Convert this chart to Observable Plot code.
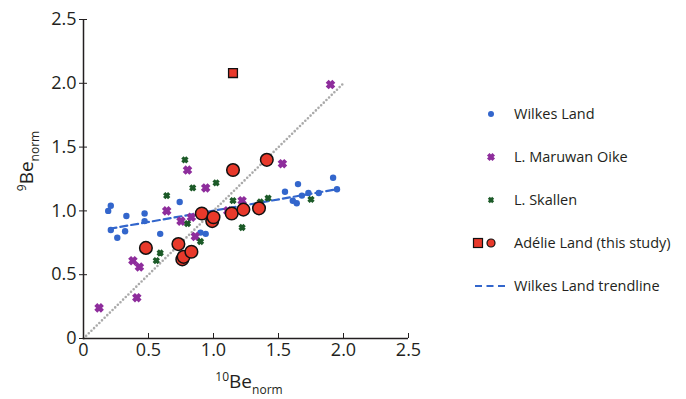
<!DOCTYPE html>
<html>
<head>
<meta charset="utf-8">
<script src="https://cdn.jsdelivr.net/npm/d3@7"></script>
<script src="https://cdn.jsdelivr.net/npm/@observablehq/plot@0.6"></script>
<style>
  html, body { margin: 0; padding: 0; background: #fff; }
  #wrap { position: relative; width: 686px; height: 399px; overflow: hidden; font-family: 'Open Sans', sans-serif; color: #231f20; }
  #chart { position: absolute; left: 0; top: 0; }
  #legend { position: absolute; left: 470px; top: 92px; }
  .item { display: flex; align-items: center; height: 43px; font-size: 14.5px; white-space: nowrap; }
  .item svg { flex: none; }
</style>
</head>
<body>
<div id="wrap"><div id="chart"></div><div id="legend"></div></div>
<script>
// ---- data ----
const wilkesX = [0.19, 0.21, 0.21, 0.26, 0.32, 0.33, 0.47, 0.47, 0.59, 0.74, 0.90, 0.94, 1.55, 1.61, 1.64, 1.65, 1.68, 1.73, 1.81, 1.92, 1.95];
const wilkesY = [1.00, 1.04, 0.85, 0.79, 0.84, 0.96, 0.98, 0.92, 0.82, 1.07, 0.83, 0.82, 1.15, 1.08, 1.06, 1.21, 1.12, 1.14, 1.14, 1.26, 1.17];

const maruwanX = [0.12, 0.38, 0.41, 0.43, 0.64, 0.75, 0.80, 0.83, 0.86, 0.94, 1.11, 1.22, 1.53, 1.90];
const maruwanY = [0.24, 0.61, 0.32, 0.56, 1.00, 0.92, 1.32, 0.95, 0.80, 1.18, 1.00, 1.08, 1.37, 1.99];

const skallenX = [0.56, 0.59, 0.64, 0.78, 0.80, 0.84, 0.90, 1.02, 1.15, 1.22, 1.36, 1.42, 1.75];
const skallenY = [0.61, 0.67, 1.12, 1.40, 0.90, 1.18, 0.76, 1.22, 1.08, 0.87, 1.07, 1.10, 1.09];

const adelieX = [0.48, 0.73, 0.76, 0.77, 0.83, 0.91, 0.99, 1.00, 1.14, 1.15, 1.23, 1.35, 1.41];
const adelieY = [0.71, 0.74, 0.62, 0.64, 0.68, 0.98, 0.92, 0.95, 0.98, 1.32, 1.01, 1.02, 1.40];

const adelieSqX = [1.15];
const adelieSqY = [2.08];

const trendX = [0.20, 1.95];
const trendY = [0.86, 1.17];

const oneToOneX = [0, 2];
const oneToOneY = [0, 2];

const axisTicks = [0, 0.5, 1.0, 1.5, 2.0, 2.5];

const legendLabels = ["Wilkes Land", "L. Maruwan Oike", "L. Skallen", "Adélie Land (this study)", "Wilkes Land trendline"];

// ---- colours ----
const BLUE = "#3366cc", PURPLE = "#8e2d9c", GREEN = "#1c5a28", RED = "#e8392b", INK = "#231f20";

const fmt = d => d === 0 ? "0" : d.toFixed(1);

const plot = Plot.plot({
  width: 450,
  height: 399,
  marginLeft: 83,
  marginRight: 42,
  marginTop: 19,
  marginBottom: 61,
  style: { fontFamily: "'Open Sans', sans-serif", fontSize: "18px", color: INK, background: "white", overflow: "visible" },
  x: { domain: [0, 2.5] },
  y: { domain: [0, 2.5] },
  marks: [
    Plot.line(oneToOneX, { x: oneToOneX, y: oneToOneY, stroke: "#aaaaaa", strokeWidth: 2.6, strokeDasharray: "0,3.7", strokeLinecap: "round" }),
    Plot.dot(wilkesX, { x: wilkesX, y: wilkesY, r: 3.2, fill: BLUE }),
    Plot.line(trendX, { x: trendX, y: trendY, stroke: BLUE, strokeWidth: 2.2, strokeDasharray: "7,4" }),
    Plot.dot(maruwanX, { x: maruwanX, y: maruwanY, symbol: "times", r: 3.1, stroke: PURPLE, strokeWidth: 4.2 }),
    Plot.dot(skallenX, { x: skallenX, y: skallenY, symbol: "times", r: 2.4, stroke: GREEN, strokeWidth: 3.3 }),
    Plot.dot(adelieX, { x: adelieX, y: adelieY, r: 6.3, fill: RED, stroke: "#111", strokeWidth: 1.5 }),
    Plot.dot(adelieSqX, { x: adelieSqX, y: adelieSqY, symbol: "square", r: 5, fill: RED, stroke: "#111", strokeWidth: 1.3 }),
    Plot.ruleX([0], { stroke: INK, strokeWidth: 1.5 }),
    Plot.ruleY([0], { stroke: INK, strokeWidth: 1.5 }),
    Plot.axisY({ ticks: axisTicks, tickSize: 4, tickPadding: 3, tickFormat: fmt, label: null, fontSize: 18 }),
    Plot.axisY({ ticks: axisTicks, tickSize: -4, tickFormat: () => "", label: null }),
    Plot.axisX({ ticks: axisTicks, tickSize: -5, tickFormat: () => "", label: null }),
    Plot.axisX({ ticks: axisTicks, tickSize: 0, tickPadding: 5, tickFormat: fmt, label: null, fontSize: 18 })
  ]
});
document.getElementById("chart").appendChild(plot);

// axis titles with super/subscripts
const svg = d3.select(plot);
const xt = svg.append("text").attr("x", 249).attr("y", 388).attr("text-anchor", "middle")
  .attr("fill", INK).style("font-size", "19px");
xt.append("tspan").attr("font-size", 12).attr("dy", -7).text("10");
xt.append("tspan").attr("dy", 7).text("Be");
xt.append("tspan").attr("font-size", 12).attr("dy", 6).text("norm");

const yt = svg.append("text").attr("transform", "translate(33,161) rotate(-90)").attr("text-anchor", "middle")
  .attr("fill", INK).style("font-size", "19px");
yt.append("tspan").attr("font-size", 12).attr("dy", -7).text("9");
yt.append("tspan").attr("dy", 7).text("Be");
yt.append("tspan").attr("font-size", 12).attr("dy", 6).text("norm");

// legend
const swatches = [
  g => g.append("circle").attr("cx", 21).attr("cy", 10).attr("r", 3).attr("fill", BLUE),
  g => g.append("path").attr("d", d3.symbol(d3.symbolTimes, Math.PI * 2.6 * 2.6)()).attr("transform", "translate(21,10)").attr("stroke", PURPLE).attr("stroke-width", 3.6).attr("fill", "none"),
  g => g.append("path").attr("d", d3.symbol(d3.symbolTimes, Math.PI * 2.1 * 2.1)()).attr("transform", "translate(21,10)").attr("stroke", GREEN).attr("stroke-width", 2.8).attr("fill", "none"),
  g => { g.append("rect").attr("x", 3.5).attr("y", 5.5).attr("width", 9).attr("height", 9).attr("fill", RED).attr("stroke", "#111").attr("stroke-width", 1.2);
         g.append("circle").attr("cx", 21).attr("cy", 10).attr("r", 4).attr("fill", RED).attr("stroke", "#111").attr("stroke-width", 1.2); },
  g => g.append("line").attr("x1", 5).attr("x2", 37).attr("y1", 10).attr("y2", 10).attr("stroke", BLUE).attr("stroke-width", 2).attr("stroke-dasharray", "7,4.5")
];
const legend = d3.select("#legend");
legendLabels.forEach((lab, i) => {
  const row = legend.append("div").attr("class", "item");
  const s = row.append("svg").attr("width", 44).attr("height", 20);
  swatches[i](s);
  row.append("span").text(lab);
});
</script>
</body>
</html>
